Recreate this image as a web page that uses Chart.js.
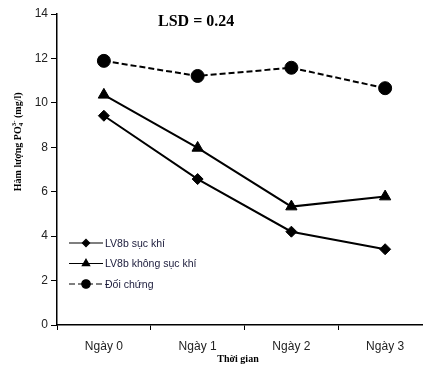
<!DOCTYPE html>
<html>
<head>
<meta charset="utf-8">
<script src="https://cdn.jsdelivr.net/npm/chart.js@4/dist/chart.umd.min.js"></script>
<style>
  html, body { margin: 0; padding: 0; background: #fff; overflow: hidden; }
  #wrap { width: 440px; height: 367px; }
</style>
</head>
<body>
<div id="wrap"><canvas id="po4Chart" width="440" height="367"></canvas></div>
<script>
/* PO4 content over time, three treatments */
const days = ['Ngày 0', 'Ngày 1', 'Ngày 2', 'Ngày 3'];
const sucKhi = [9.42, 6.57, 4.20, 3.41];
const khongSucKhi = [10.36, 7.97, 5.33, 5.78];
const doiChung = [11.89, 11.21, 11.58, 10.66];
const seriesNames = ['LV8b sục khí', 'LV8b không sục khí', 'Đối chứng'];
const yTicks = [0, 2, 4, 6, 8, 10, 12, 14];
const lsdText = 'LSD = 0.24';
const xTitle = 'Thời gian';

const SERIF = '"Liberation Serif", "Times New Roman", serif';
const SANS = '"Liberation Sans", Arial, sans-serif';

/* titles, LSD note and the in-plot legend */
const annotations = {
    id: 'annotations',
    afterDraw(chart) {
        const ctx = chart.ctx;
        const ca = chart.chartArea;
        ctx.save();
        ctx.fillStyle = '#000';

        // LSD note
        ctx.font = 'bold 16px ' + SERIF;
        ctx.textAlign = 'left';
        ctx.textBaseline = 'middle';
        ctx.fillText(lsdText, ca.left + 101, ca.top + 8);

        // x axis title
        ctx.font = 'bold 10px ' + SERIF;
        ctx.textAlign = 'center';
        ctx.fillText(xTitle, ca.left + 181, ca.bottom + 34);

        // y axis title with PO4 3- sub/superscript
        ctx.translate(18, ca.top + 129);
        ctx.rotate(-Math.PI / 2);
        const parts = [
            ['Hàm lượng PO', 10, 0],
            ['4', 7, 3],
            ['3-', 7, -4],
            [' (mg/l)', 10, 0],
        ];
        let total = 0;
        parts.forEach(p => {
            ctx.font = 'bold ' + p[1] + 'px ' + SERIF;
            if (p[0] !== '3-') total += ctx.measureText(p[0]).width;
        });
        let x = -total / 2;
        ctx.textAlign = 'left';
        parts.forEach(p => {
            ctx.font = 'bold ' + p[1] + 'px ' + SERIF;
            ctx.fillText(p[0], x, p[2]);
            if (p[0] !== '4') x += ctx.measureText(p[0]).width;
        });
        ctx.restore();

        // legend inside plot area
        ctx.save();
        chart.data.datasets.forEach((ds, i) => {
            const y = ca.bottom - 82 + i * 20.5;
            const x0 = ca.left + 12;
            ctx.strokeStyle = '#000';
            ctx.lineWidth = 1.2;
            ctx.setLineDash(ds.borderDash || []);
            ctx.beginPath();
            ctx.moveTo(x0, y);
            ctx.lineTo(x0 + 34, y);
            ctx.stroke();
            ctx.setLineDash([]);
            ctx.fillStyle = '#000';
            Chart.helpers.drawPoint(ctx, {
                pointStyle: ds.pointStyle,
                radius: ds.pointRadius * 0.65,
                borderWidth: 1,
            }, x0 + 17, y);
            ctx.font = '10.5px ' + SANS;
            ctx.fillStyle = '#1a1a3a';
            ctx.textAlign = 'left';
            ctx.textBaseline = 'middle';
            ctx.fillText(ds.label, x0 + 36, y + 1);
        });
        ctx.restore();
    }
};

function line(label, data, style, radius, dash) {
    return {
        label: label,
        data: data,
        borderColor: '#000',
        backgroundColor: '#000',
        borderWidth: 2,
        borderDash: dash,
        pointStyle: style,
        pointRadius: radius,
        pointHoverRadius: radius,
        pointBorderWidth: 1,
        tension: 0,
    };
}

new Chart(document.getElementById('po4Chart'), {
    type: 'line',
    data: {
        labels: days,
        datasets: [
            line(seriesNames[0], sucKhi, 'rectRot', 5.5, []),
            line(seriesNames[1], khongSucKhi, 'triangle', 6.5, []),
            line(seriesNames[2], doiChung, 'circle', 6.5, [6, 3]),
        ],
    },
    options: {
        responsive: false,
        animation: false,
        layout: { padding: { top: 14, right: 8, left: 0, bottom: 0 } },
        plugins: {
            legend: { display: false },
            tooltip: { enabled: false },
        },
        scales: {
            x: {
                offset: true,
                grid: {
                    offset: true,
                    drawOnChartArea: false,
                    drawTicks: true,
                    tickLength: 5,
                    color: '#000',
                },
                border: { display: true, color: '#000', width: 1.5 },
                ticks: {
                    color: '#222',
                    font: { family: SANS, size: 12 },
                    padding: 9,
                    maxRotation: 0,
                },
                afterFit(scale) { scale.height = 42; },
            },
            y: {
                min: 0,
                max: 14,
                afterBuildTicks(scale) { scale.ticks = yTicks.map(v => ({ value: v })); },
                grid: {
                    drawOnChartArea: false,
                    drawTicks: true,
                    tickLength: 6,
                    color: '#000',
                },
                border: { display: true, color: '#000', width: 1.5 },
                ticks: {
                    color: '#222',
                    font: { family: SANS, size: 12 },
                    padding: 3,
                },
                afterFit(scale) { scale.width = 57; },
            },
        },
    },
    plugins: [annotations],
});
</script>
</body>
</html>
